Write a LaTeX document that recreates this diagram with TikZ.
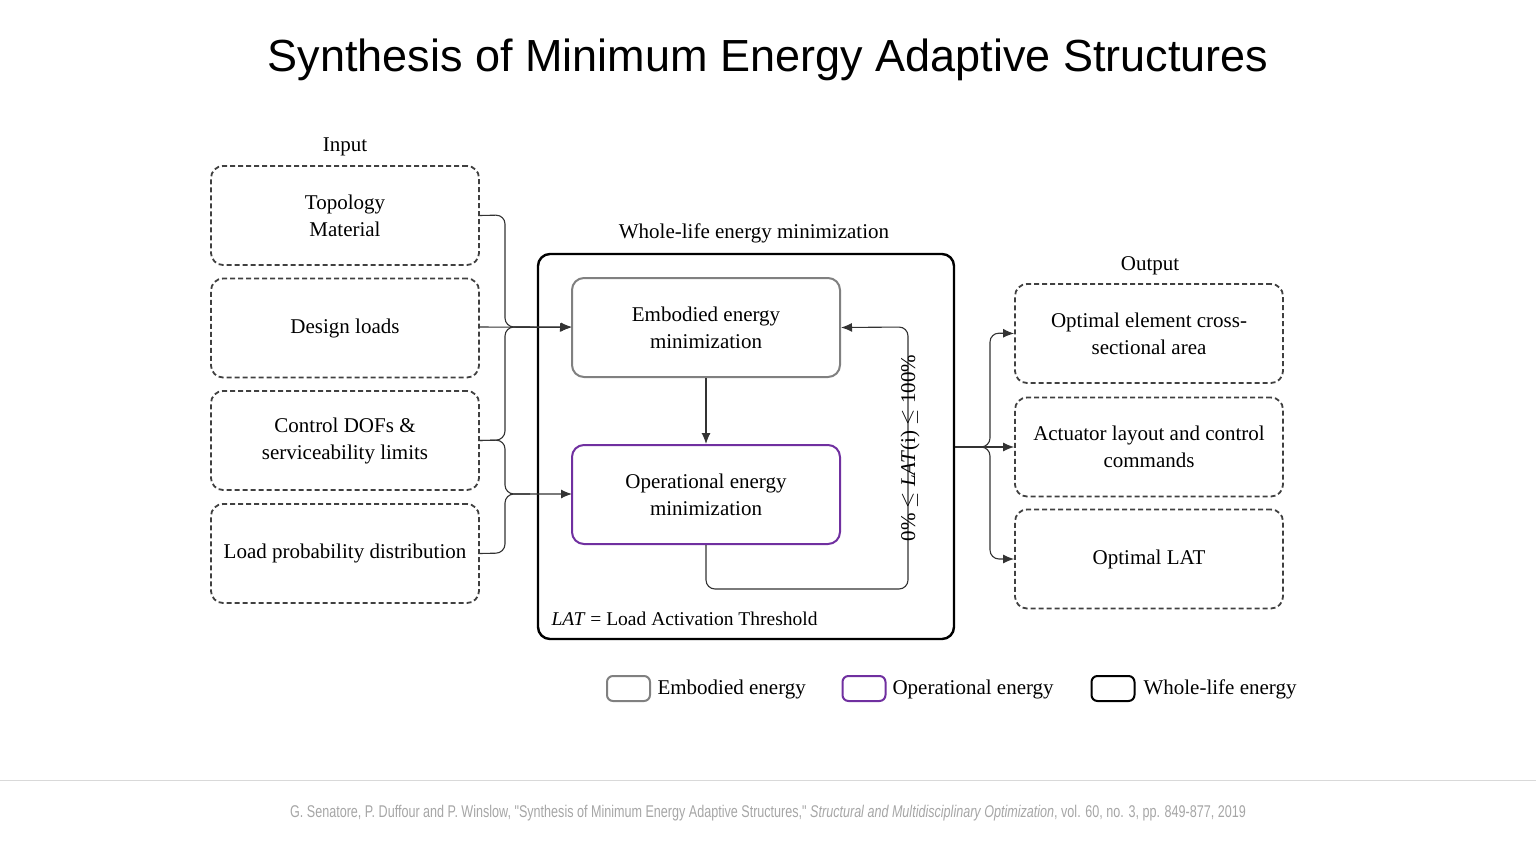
\documentclass[tikz,border=0pt]{standalone}
\usepackage{fontspec}
\setmainfont{Liberation Serif}
\newfontfamily\titlefont{Liberation Sans}
\usetikzlibrary{arrows.meta}
\definecolor{opc}{HTML}{7030A0}
\begin{document}
\begin{tikzpicture}[x=1pt,y=-1pt,
  inbox/.style={draw=black!75,dash pattern=on 5pt off 3pt,line width=1.8pt,rounded corners=12pt,minimum width=268pt,minimum height=99pt,align=center,font=\fontsize{21}{27}\selectfont,inner sep=2pt},
  embbox/.style={draw=black!50,line width=2pt,rounded corners=12pt,minimum width=268pt,minimum height=99pt,align=center,font=\fontsize{21}{27}\selectfont},
  opbox/.style={embbox,draw=opc},
  lbl/.style={font=\fontsize{21}{26}\selectfont},
  conn/.style={draw=black!80,line width=1.1pt,rounded corners=9pt},
  arr/.style={conn,-{Latex[length=11pt,width=9pt]}},
  leg/.style={line width=2pt,rounded corners=6pt,minimum width=43pt,minimum height=25pt}
]
\useasboundingbox (0,0) rectangle (1536,864);
\node[font=\titlefont\fontsize{45}{52}\selectfont] (title) at (768,60) {Synthesis of Minimum Energy Adaptive Structures};
% input
\node[lbl] (inl) at (345,147) {Input};
\node[inbox] (i1) at (345,215.5) {Topology\\Material};
\node[inbox] (i2) at (345,328) {Design loads};
\node[inbox] (i3) at (345,440.5) {Control DOFs \&\\serviceability limits};
\node[inbox] (i4) at (345,553.5) {Load probability distribution};
% whole-life
\node[lbl] (wl) at (754,233) {Whole-life energy minimization};
\node[draw=black,line width=2.4pt,rounded corners=12pt,minimum width=416pt,minimum height=385pt] (whole) at (746,446.5) {};
\node[embbox] (emb) at (706,327.5) {Embodied energy\\minimization};
\node[opbox] (op) at (706,494.5) {Operational energy\\minimization};
\node[font=\fontsize{19.5}{24}\selectfont,anchor=west] (latl) at (548,619) {\textit{LAT} = Load Activation Threshold};
\draw[arr] (emb.south) -- (op.north);
\coordinate (fb1) at (706,589);
\coordinate (fb2) at (908,589);
\coordinate (fb3) at (908,327);
\draw[arr] (op.south) -- (fb1) -- (fb2) -- (fb3) -- (emb.east);
\node[lbl,rotate=90] (range) at (910,448) {0\% $\leq$ \textit{LAT}(i) $\leq$ 100\%};
% input connectors
\coordinate (j1) at (572,327);
\coordinate (j2) at (572,494);
\draw[arr] (i1.east) -- (505,215) -- (505,327) -- (j1);
\draw[arr] (i2.east |- 327,327) -- (emb.west);
\draw[conn] (i3.east) -- (505,440) -- (505,327) -- (530,327);
\draw[arr] (i3.east) -- (505,440) -- (505,494) -- (j2);
\draw[conn] (i4.east) -- (505,553) -- (505,494) -- (530,494);
% output
\node[lbl] (outl) at (1150,266) {Output};
\node[inbox] (o1) at (1149,333.5) {Optimal element cross-\\sectional area};
\node[inbox] (o2) at (1149,447) {Actuator layout and control\\commands};
\node[inbox] (o3) at (1149,559) {Optimal LAT};
\coordinate (oj) at (990,447);
\draw[arr] (whole.east |- oj) -- (oj) -- (990,333) -- (o1.west);
\draw[arr] (whole.east |- oj) -- (o2.west);
\draw[arr] (whole.east |- oj) -- (oj) -- (990,559) -- (o3.west);
% legend
\node[leg,draw=black!50] (lg1) at (628.5,688.5) {};
\node[lbl,anchor=west] (lt1) at (654,689) {Embodied energy};
\node[leg,draw=opc] (lg2) at (864,688.5) {};
\node[lbl,anchor=west] (lt2) at (889,689) {Operational energy};
\node[leg,draw=black] (lg3) at (1113,688.5) {};
\node[lbl,anchor=west] (lt3) at (1140,689) {Whole-life energy};
% footer
\draw[black!15,line width=1pt] (0,780) -- (1536,780);
\node[text=black!35,font=\titlefont\fontsize{17}{20}\selectfont] (foot) at (768,813) {\scalebox{0.74}[1]{G. Senatore, P. Duffour and P. Winslow, "Synthesis of Minimum Energy Adaptive Structures," \textit{Structural and Multidisciplinary Optimization}, vol. 60, no. 3, pp. 849-877, 2019}};
\end{tikzpicture}
\end{document}
